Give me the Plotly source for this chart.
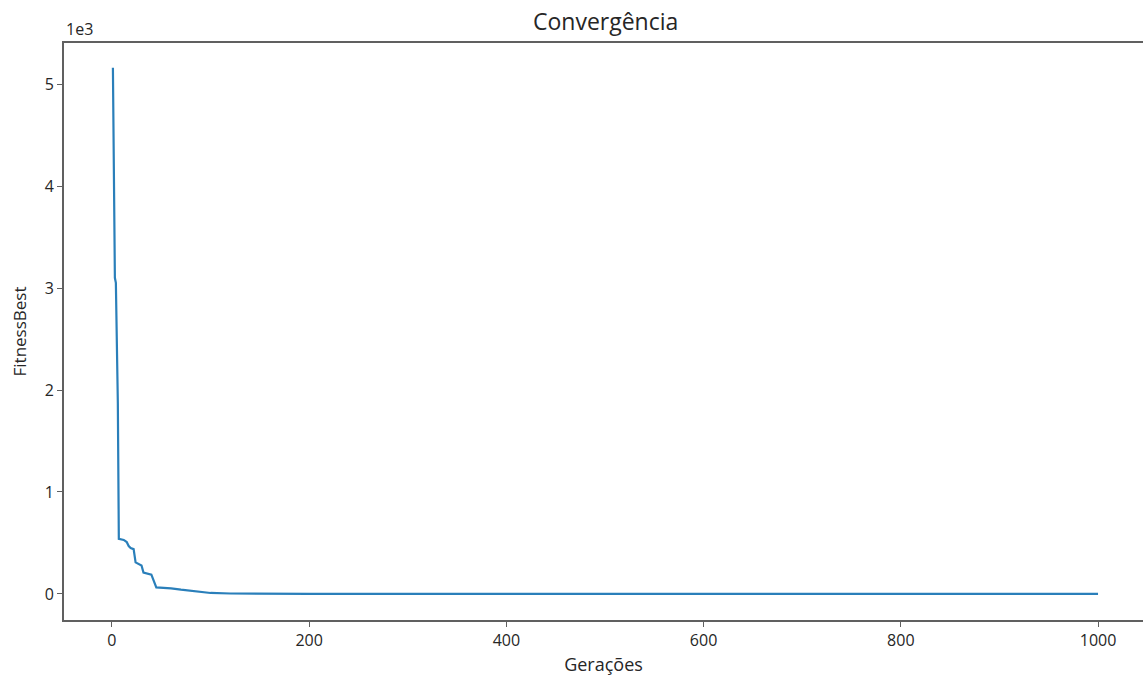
import plotly.graph_objects as go

# Generation (x) and best fitness (y)
generations = [1, 3, 4, 6, 7, 12, 15, 17, 19, 22, 24, 30, 32, 40, 45, 50, 60, 70, 80, 90, 100, 120, 150, 200, 1000]
fitness_best = [5160, 3100, 3050, 1870, 540, 530, 510, 470, 450, 440, 310, 280, 210, 190, 65, 62, 55, 42, 30, 18, 10, 5, 2, 1, 0.5]

x_ticks = [0, 200, 400, 600, 800, 1000]
y_ticks = [0, 1000, 2000, 3000, 4000, 5000]
y_tick_labels = ["0", "1", "2", "3", "4", "5"]

FONT = "Open Sans"
TXT = "#262626"
AX = "#606060"

fig = go.Figure()
fig.add_trace(go.Scatter(
    x=generations, y=fitness_best, mode="lines",
    line=dict(color="#2a7fba", width=2.2),
    showlegend=False,
))

fig.update_layout(
    width=1143, height=684,
    margin=dict(l=64, r=0, t=43, b=64),
    paper_bgcolor="white", plot_bgcolor="white",
    font=dict(family=FONT, color=TXT, size=17),
    title=dict(text="Convergência", x=0.502, xref="paper", xanchor="center",
               y=1 - 22 / 684, yref="container", yanchor="middle",
               font=dict(size=23, family=FONT, color=TXT)),
    xaxis=dict(
        range=[-48.6, 1045.6], tickmode="array", tickvals=x_ticks,
        showgrid=False, zeroline=False,
        showline=True, linecolor=AX, linewidth=2, mirror=True,
        ticks="outside", ticklen=5, tickwidth=1.2, tickcolor=AX,
        tickfont=dict(size=16, family=FONT, color=TXT),
        title=dict(text="Gerações", font=dict(size=18, family=FONT, color=TXT), standoff=8),
    ),
    yaxis=dict(
        range=[-255, 5402], tickmode="array", tickvals=y_ticks, ticktext=y_tick_labels,
        showgrid=False, zeroline=False,
        showline=True, linecolor=AX, linewidth=2, mirror=False,
        ticks="outside", ticklen=5, tickwidth=1.2, tickcolor=AX,
        tickfont=dict(size=16, family=FONT, color=TXT),
        title=dict(text="FitnessBest", font=dict(size=17, family=FONT, color=TXT), standoff=14),
    ),
    annotations=[dict(
        text="1e3", xref="paper", yref="paper", x=0, y=1,
        xanchor="left", yanchor="bottom", showarrow=False, yshift=1,
        font=dict(size=16, family=FONT, color=TXT),
    )],
)

fig.write_html("out.html")
